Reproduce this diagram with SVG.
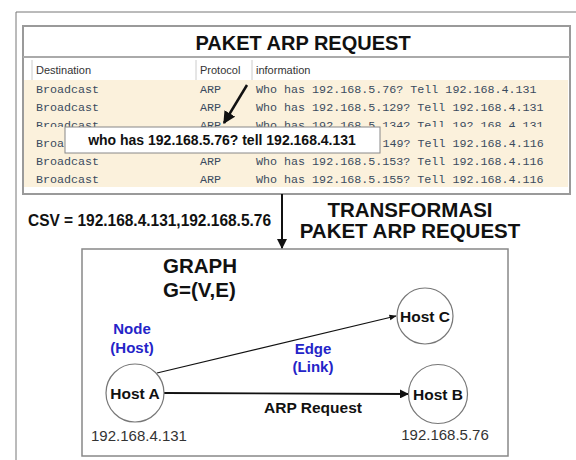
<svg xmlns="http://www.w3.org/2000/svg" width="576" height="460" viewBox="0 0 576 460">
<style>
.b{font-family:"Liberation Sans",Arial,sans-serif;font-weight:bold;fill:#111}
.hdr{font-family:"Liberation Sans",Arial,sans-serif;font-size:11px;fill:#333}
.mono{font-family:"Liberation Mono","Courier New",monospace;font-size:11.7px;fill:#3a4b5e}
.blue{font-family:"Liberation Sans",Arial,sans-serif;font-weight:bold;font-size:15px;fill:#2424c8}
.ip{font-family:"Liberation Sans",Arial,sans-serif;font-size:15px;fill:#333}
.host{font-family:"Liberation Sans",Arial,sans-serif;font-weight:bold;font-size:15.5px;fill:#111}
.node circle{fill:#fff;stroke:#777;stroke-width:1.2}
</style>
<defs>
<marker id="ah" viewBox="0 0 10 10" refX="9" refY="5" markerWidth="5" markerHeight="5" orient="auto" markerUnits="strokeWidth"><path d="M0,0 L10,5 L0,10 z" fill="#111"/></marker>
<marker id="ahs" viewBox="0 0 10 10" refX="9" refY="5" markerWidth="6" markerHeight="6" orient="auto" markerUnits="strokeWidth"><path d="M0,1 L10,5 L0,9 z" fill="#111"/></marker>
<clipPath id="row3clip"><rect x="24" y="115" width="544" height="12"/></clipPath>
</defs>
<rect width="576" height="460" fill="#fff"/>
<path d="M576,12 H16 V460" fill="none" stroke="#777" stroke-width="1"/>

<g id="arp-table">
<rect x="23" y="26" width="547" height="168" fill="#fff" stroke="#9a9a9a" stroke-width="2"/>
<line x1="23" y1="57" x2="570" y2="57" stroke="#aaa" stroke-width="2"/>
<text class="b" x="303" y="50" font-size="20" text-anchor="middle">PAKET ARP REQUEST</text>
<line x1="32" y1="60" x2="32" y2="80" stroke="#ccc"/>
<line x1="196" y1="60" x2="196" y2="80" stroke="#ccc"/>
<line x1="252" y1="60" x2="252" y2="80" stroke="#ccc"/>
<text class="hdr" x="36" y="74">Destination</text>
<text class="hdr" x="200" y="74">Protocol</text>
<text class="hdr" x="256" y="74">information</text>
<rect x="24" y="80" width="544" height="107" fill="#fbf1dc"/>
<g class="mono">
<text x="36" y="93">Broadcast</text><text x="200" y="93">ARP</text><text x="256" y="93">Who has 192.168.5.76? Tell 192.168.4.131</text>
<text x="36" y="111">Broadcast</text><text x="200" y="111">ARP</text><text x="256" y="111">Who has 192.168.5.129? Tell 192.168.4.131</text>
<g clip-path="url(#row3clip)"><text x="36" y="129">Broadcast</text><text x="200" y="129">ARP</text><text x="256" y="129">Who has 192.168.5.134? Tell 192.168.4.131</text></g>
<text x="36" y="147">Broa</text><text x="382.4" y="147">149? Tell 192.168.4.116</text>
<text x="36" y="165">Broadcast</text><text x="200" y="165">ARP</text><text x="256" y="165">Who has 192.168.5.153? Tell 192.168.4.116</text>
<text x="36" y="183">Broadcast</text><text x="200" y="183">ARP</text><text x="256" y="183">Who has 192.168.5.155? Tell 192.168.4.116</text>
</g>
</g>

<g id="popup">
<rect x="65" y="127" width="315" height="26" fill="#fff" stroke="#888" stroke-width="1"/>
<text class="b" x="222" y="145" font-size="14" text-anchor="middle">who has 192.168.5.76? tell 192.168.4.131</text>
</g>

<g id="labels">
<text class="b" x="28" y="226" font-size="16" textLength="243" lengthAdjust="spacingAndGlyphs">CSV = 192.168.4.131,192.168.5.76</text>
<text class="b" x="410" y="217" font-size="20.5" text-anchor="middle">TRANSFORMASI</text>
<text class="b" x="410" y="238" font-size="20.5" text-anchor="middle">PAKET ARP REQUEST</text>
</g>

<g id="graph-box">
<rect x="82" y="249" width="426" height="207" fill="#fff" stroke="#888" stroke-width="1.5"/>
<text class="b" x="163" y="273" font-size="20.5">GRAPH</text>
<text class="b" x="163" y="297" font-size="20.5">G=(V,E)</text>
<text class="blue" x="132" y="334" text-anchor="middle">Node</text>
<text class="blue" x="132" y="353" text-anchor="middle">(Host)</text>
<text class="blue" x="313" y="354" text-anchor="middle">Edge</text>
<text class="blue" x="313" y="372" text-anchor="middle">(Link)</text>
<text class="host" x="313" y="413" text-anchor="middle">ARP Request</text>
<text class="ip" x="139" y="441" text-anchor="middle">192.168.4.131</text>
<text class="ip" x="445" y="440" text-anchor="middle">192.168.5.76</text>
</g>

<g id="connectors" fill="none" stroke="#111">
<line x1="247" y1="85" x2="224" y2="123" stroke-width="2.5" marker-end="url(#ah)"/>
<line x1="282" y1="194" x2="282" y2="248" stroke-width="2" marker-end="url(#ah)"/>
<line x1="157" y1="373" x2="396" y2="316" stroke-width="1.2" marker-end="url(#ahs)"/>
<line x1="164" y1="393" x2="408" y2="394" stroke-width="1.8" marker-end="url(#ah)"/>
</g>

<g id="host-a" class="node">
<circle cx="135" cy="393" r="29"/>
<text class="host" x="135" y="398.5" text-anchor="middle">Host A</text>
</g>
<g id="host-b" class="node">
<circle cx="438" cy="394" r="29.5"/>
<text class="host" x="438" y="399.5" text-anchor="middle">Host B</text>
</g>
<g id="host-c" class="node">
<circle cx="425" cy="316" r="28"/>
<text class="host" x="425" y="321.5" text-anchor="middle">Host C</text>
</g>
</svg>
